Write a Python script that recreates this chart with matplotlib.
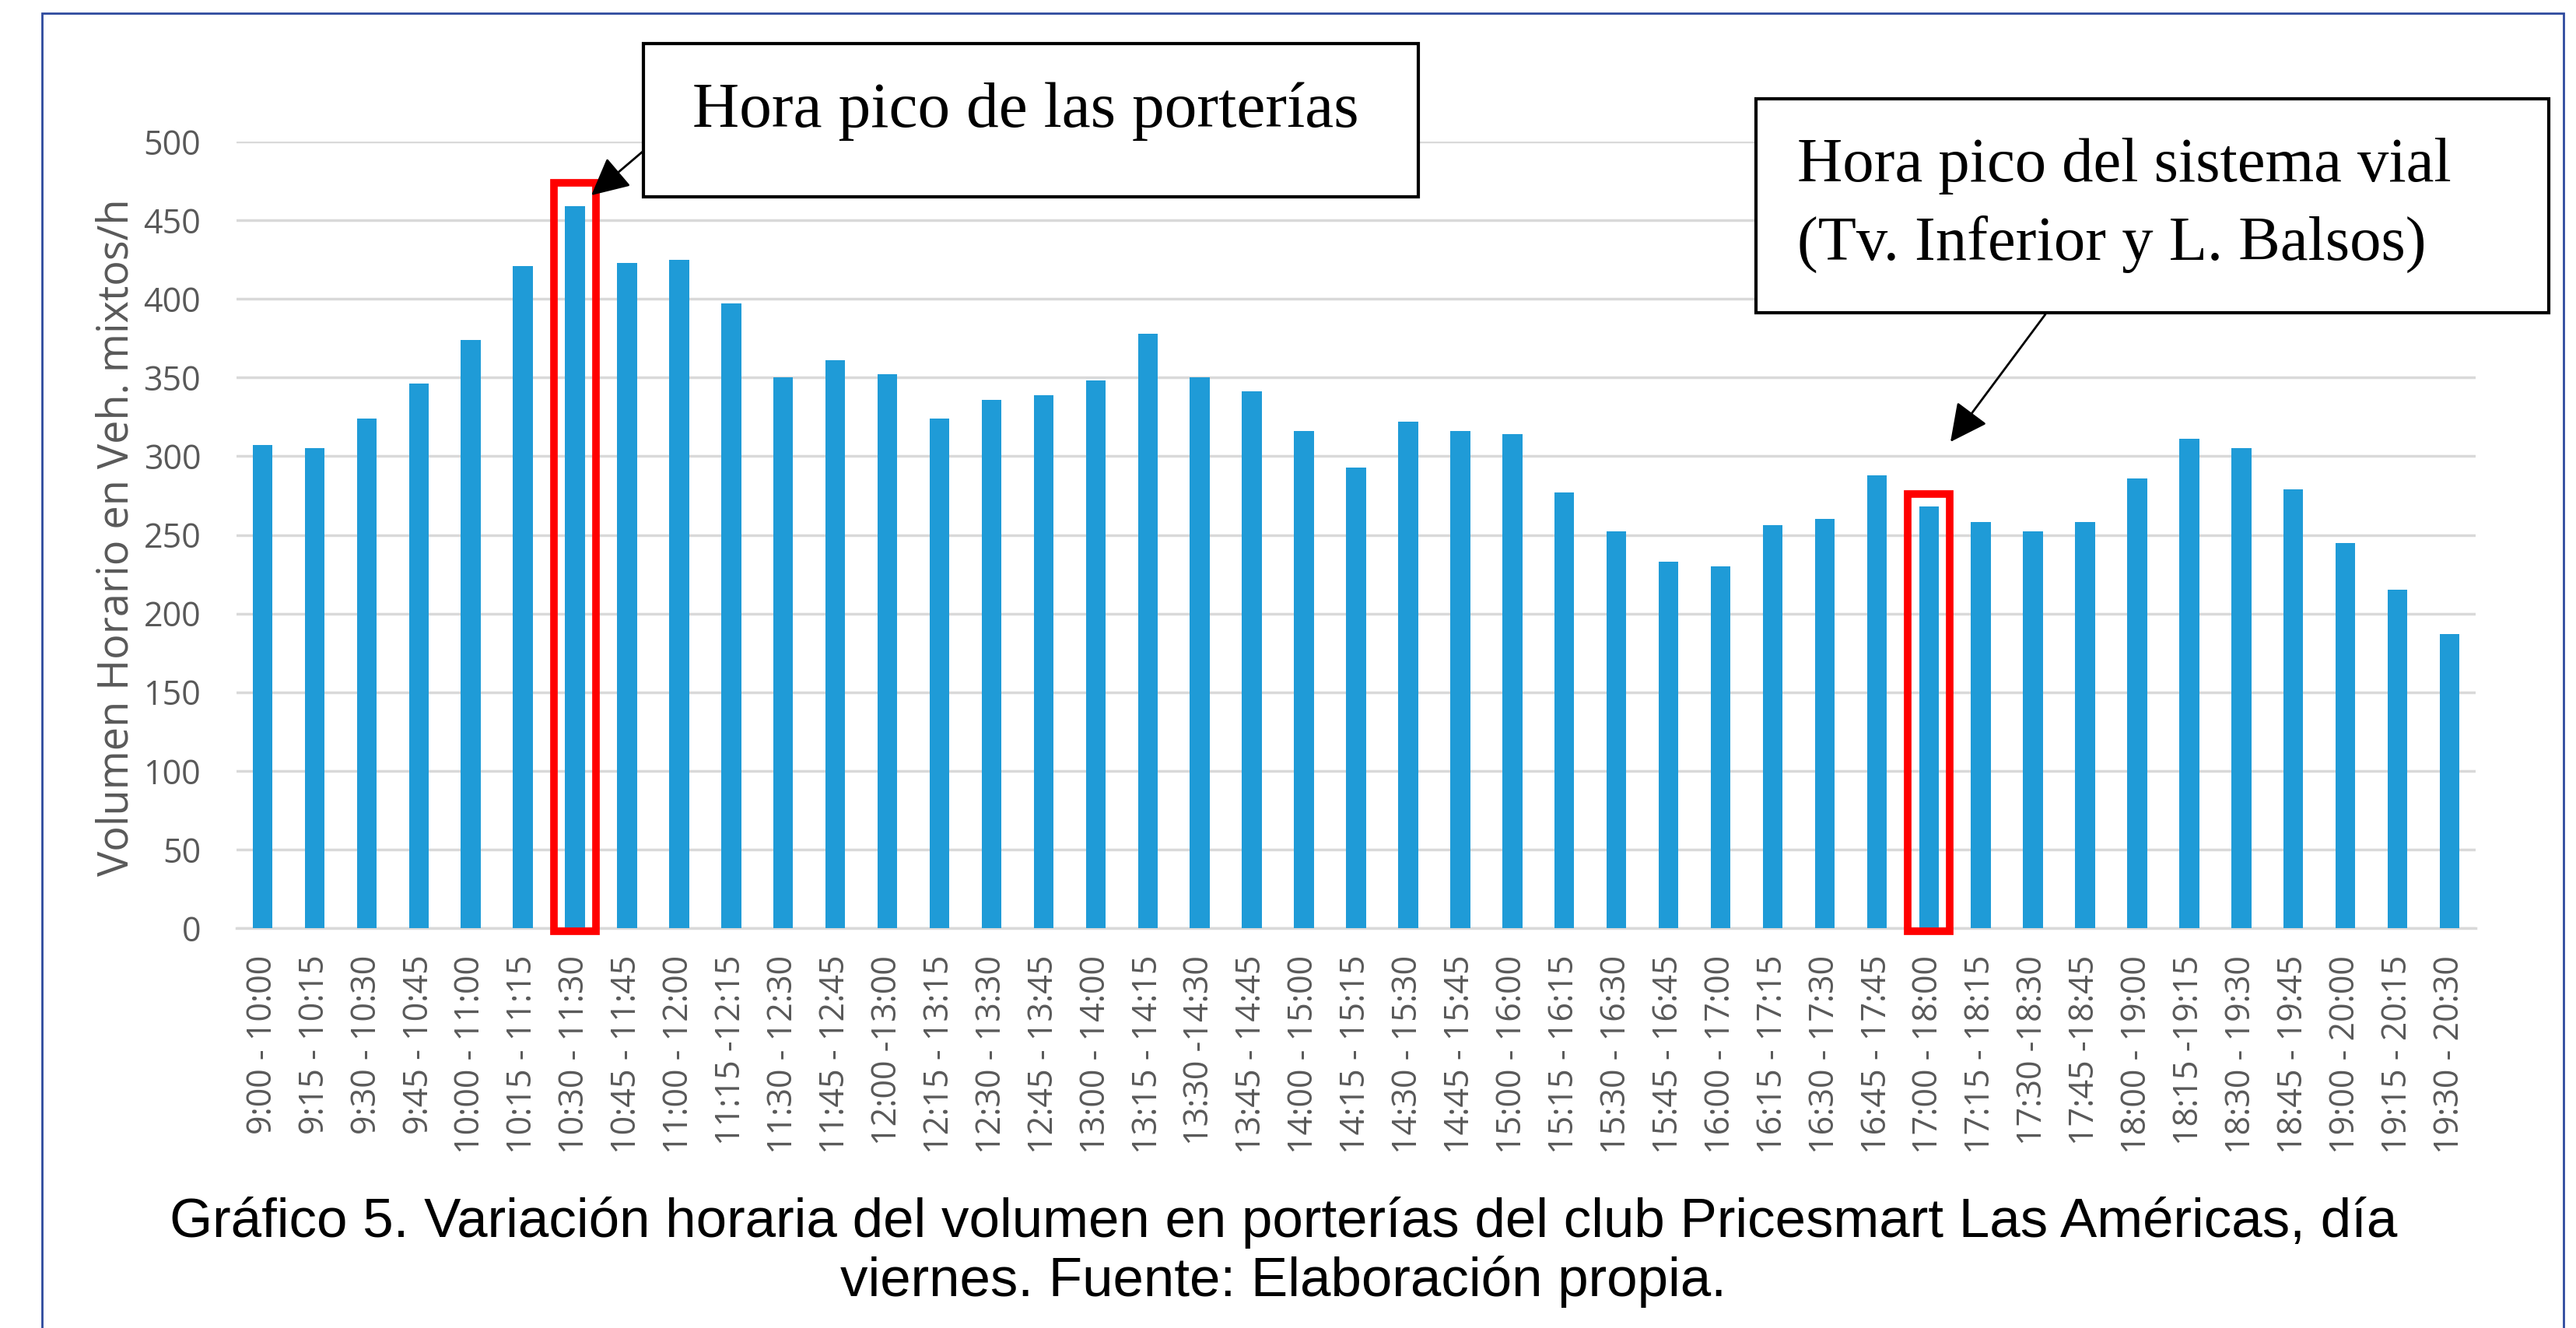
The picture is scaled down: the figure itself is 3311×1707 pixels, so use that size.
import matplotlib
matplotlib.use("Agg")
import matplotlib.pyplot as plt
from matplotlib.patches import Rectangle, FancyArrowPatch, ArrowStyle

# data
intervals = [
    "9:00 - 10:00", "9:15 - 10:15", "9:30 - 10:30", "9:45 - 10:45",
    "10:00 - 11:00", "10:15 - 11:15", "10:30 - 11:30", "10:45 - 11:45",
    "11:00 - 12:00", "11:15 -12:15", "11:30 - 12:30", "11:45 - 12:45",
    "12:00 -13:00", "12:15 - 13:15", "12:30 - 13:30", "12:45 - 13:45",
    "13:00 - 14:00", "13:15 - 14:15", "13:30 -14:30", "13:45 - 14:45",
    "14:00 - 15:00", "14:15 - 15:15", "14:30 - 15:30", "14:45 - 15:45",
    "15:00 - 16:00", "15:15 - 16:15", "15:30 - 16:30", "15:45 - 16:45",
    "16:00 - 17:00", "16:15 - 17:15", "16:30 - 17:30", "16:45 - 17:45",
    "17:00 - 18:00", "17:15 - 18:15", "17:30 -18:30", "17:45 -18:45",
    "18:00 - 19:00", "18:15 -19:15", "18:30 - 19:30", "18:45 - 19:45",
    "19:00 - 20:00", "19:15 - 20:15", "19:30 - 20:30",
]
volumes = [
    307, 305, 324, 346, 374, 421, 459, 423, 425, 397, 350, 361, 352, 324, 336,
    339, 348, 378, 350, 341, 316, 293, 322, 316, 314, 277, 252, 233, 230, 256,
    260, 288, 268, 258, 252, 258, 286, 311, 305, 279, 245, 215, 187,
]
y_ticks = list(range(0, 501, 50))
peak_porterias = "10:30 - 11:30"
peak_vial = "17:00 - 18:00"

W, H = 3311, 1707


def fx(px):
    return px / W


def fy(py):
    return 1 - py / H


fig = plt.figure(figsize=(W / 100, H / 100), dpi=100)
ax = fig.add_axes([fx(304), fy(1193), fx(3182) - fx(304), fy(182) - fy(1193)])

x = list(range(len(intervals)))
ax.bar(x, volumes, width=0.38, color="#1F9BD7", zorder=3)

ax.set_xlim(-0.5, len(intervals) - 0.5)
ax.set_ylim(0, 500)
ax.set_yticks(y_ticks)
ax.set_xticks(x)
ax.set_xticklabels(intervals, rotation=90, fontsize=31, family="Open Sans", color="#595959")
for lab in ax.get_yticklabels():
    lab.set_family("Open Sans")
ax.tick_params(axis="y", length=0, pad=33, labelsize=31, labelcolor="#595959")
ax.tick_params(axis="x", length=0, pad=25)
ax.grid(axis="y", color="#D9D9D9", linewidth=2.5, zorder=0)
ax.set_axisbelow(True)
for s in ["top", "right", "left"]:
    ax.spines[s].set_visible(False)
ax.spines["bottom"].set_color("#D9D9D9")
ax.spines["bottom"].set_linewidth(2.5)

ax.set_ylabel("Volumen Horario en Veh. mixtos/h", fontsize=39, family="Open Sans",
              color="#595959")
ax.yaxis.set_label_coords(-0.044, 0.497)

# red highlight boxes around the two peak hours
for name, margin in [(peak_porterias, 15), (peak_vial, 8)]:
    i = intervals.index(name)
    ax.add_patch(Rectangle((i - 0.4, -2), 0.8, volumes[i] + margin + 2, fill=False,
                           edgecolor="#FF0000", linewidth=7, clip_on=False, zorder=5))

# callout boxes
box_kw = dict(transform=fig.transFigure, facecolor="white", edgecolor="black",
              linewidth=3, zorder=2)
fig.add_artist(Rectangle((fx(827), fy(253)), fx(1823) - fx(827), fy(56) - fy(253), **box_kw))
fig.add_artist(Rectangle((fx(2257), fy(402)), fx(3276) - fx(2257), fy(127) - fy(402), **box_kw))

serif = "Liberation Serif"
fig.text(fx(1318), fy(163), "Hora pico de las porterías", ha="center", va="baseline",
         fontsize=60, family=serif, zorder=4)
fig.text(fx(2310), fy(233), "Hora pico del sistema vial", ha="left", va="baseline",
         fontsize=58, family=serif, zorder=4)
fig.text(fx(2310), fy(334), "(Tv. Inferior y L. Balsos)", ha="left", va="baseline",
         fontsize=58, family=serif, zorder=4)

arrow = ArrowStyle("-|>", head_length=1.5, head_width=0.75)
for (x0, y0), (x1, y1) in [((827, 194), (760, 251)), ((2629, 404), (2507, 568))]:
    fig.add_artist(FancyArrowPatch((fx(x0), fy(y0)), (fx(x1), fy(y1)),
                                   transform=fig.transFigure, arrowstyle=arrow,
                                   mutation_scale=20, color="black", linewidth=2,
                                   shrinkA=0, shrinkB=0, zorder=4))

# caption
fig.text(0.4983, fy(1590),
         "Gráfico 5. Variación horaria del volumen en porterías del club Pricesmart Las Américas, día",
         ha="center", va="baseline", fontsize=51, family="Liberation Sans")
fig.text(0.4983, fy(1666), "viernes. Fuente: Elaboración propia.",
         ha="center", va="baseline", fontsize=51, family="Liberation Sans")

# thin page border
fig.add_artist(Rectangle((fx(54), fy(1720)), fx(3295) - fx(54), fy(17) - fy(1720),
                         transform=fig.transFigure, fill=False, edgecolor="#2E4A9E",
                         linewidth=2))

fig.savefig("out.png", dpi=100)
